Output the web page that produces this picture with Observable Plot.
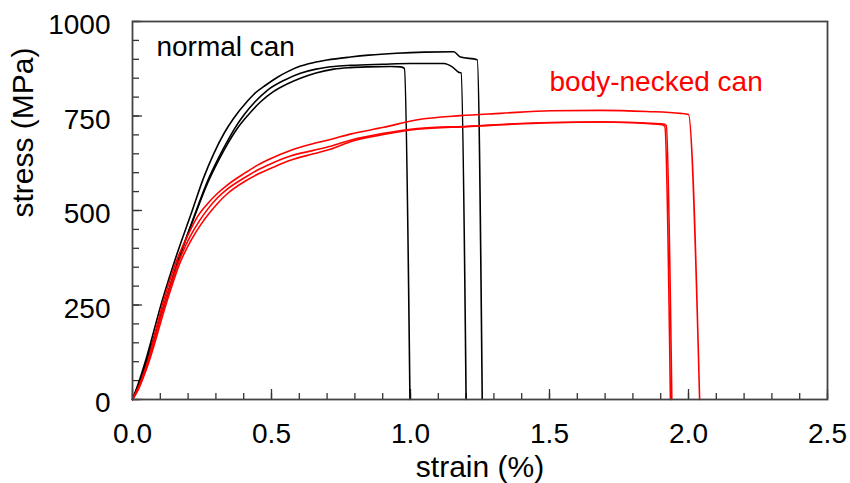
<!DOCTYPE html>
<html>
<head>
<meta charset="utf-8">
<script src="https://cdn.jsdelivr.net/npm/d3@7"></script>
<script src="https://cdn.jsdelivr.net/npm/@observablehq/plot@0.6"></script>
<style>
  html, body { margin: 0; padding: 0; background: #fff; }
</style>
</head>
<body>
<div id="chart"></div>
<script>
// ---- Data: [strain (%), stress (MPa)] ----
const normalCan1 = [[0,0],[0.02,40],[0.05,110],[0.107,262],[0.16,385],[0.215,500],[0.255,585],[0.292,650],[0.33,705],[0.364,744],[0.413,789],[0.436,807],[0.48,832],[0.52,852],[0.56,868],[0.604,882],[0.65,891],[0.70,898],[0.784,906],[0.85,911],[0.95,916],[1.05,919],[1.155,920],[1.18,906],[1.24,899],[1.258,0]];
const normalCan2 = [[0,0],[0.02,35],[0.05,100],[0.119,262],[0.17,380],[0.227,495],[0.27,578],[0.31,640],[0.341,683],[0.37,720],[0.40,752],[0.44,787],[0.485,818],[0.55,846],[0.604,863],[0.66,874],[0.724,881],[0.784,884],[0.9,887],[1.0,889],[1.12,889],[1.15,880],[1.173,866],[1.182,864],[1.2,0]];
const normalCan3 = [[0,0],[0.02,35],[0.05,100],[0.119,262],[0.17,378],[0.227,492],[0.27,572],[0.31,633],[0.341,675],[0.375,715],[0.413,750],[0.46,787],[0.508,815],[0.56,836],[0.604,850],[0.66,864],[0.724,874],[0.784,878],[0.85,880],[0.93,881],[0.965,880],[0.978,876],[0.998,0]];
const neckedCan1 = [[0,0],[0.02,30],[0.05,90],[0.112,262],[0.16,370],[0.202,439],[0.235,485],[0.27,518],[0.305,545],[0.342,568],[0.406,600],[0.45,620],[0.496,637],[0.568,659],[0.651,677],[0.712,688],[0.784,702],[0.903,720],[1.025,740],[1.18,751],[1.324,757],[1.504,764],[1.683,765],[1.85,762],[1.971,757],[2.0,754],[2.04,0]];
const neckedCan2 = [[0,0],[0.02,28],[0.05,85],[0.119,262],[0.165,362],[0.205,428],[0.24,472],[0.27,503],[0.305,533],[0.342,557],[0.406,588],[0.45,607],[0.496,623],[0.568,644],[0.651,659],[0.712,670],[0.784,686],[0.903,704],[1.025,717],[1.205,723],[1.504,733],[1.7,734],[1.85,730],[1.905,727],[1.915,722],[1.935,0]];
const neckedCan3 = [[0,0],[0.02,25],[0.05,80],[0.125,262],[0.17,360],[0.21,420],[0.245,462],[0.273,490],[0.305,518],[0.342,545],[0.406,578],[0.45,596],[0.496,611],[0.568,633],[0.651,650],[0.712,662],[0.784,682],[0.903,701],[1.025,715],[1.205,722],[1.504,732],[1.7,734],[1.85,731],[1.91,729],[1.92,725],[1.94,0]];

const groups = ["normal can", "body-necked can"];
const groupColors = ["#000000", "#ff0000"];
const xTicks = [0, 0.5, 1.0, 1.5, 2.0, 2.5];
const xMinorTicks = d3.range(0, 26).map(i => i / 10);
const yTicks = [0, 250, 500, 750, 1000];
const yMinorTicks = d3.range(0, 21).map(i => i * 50);
const xLabel = "strain (%)";
const yLabel = "stress (MPa)";

const curves = [
  {group: groups[0], points: normalCan1},
  {group: groups[0], points: normalCan2},
  {group: groups[0], points: normalCan3},
  {group: groups[1], points: neckedCan1},
  {group: groups[1], points: neckedCan2},
  {group: groups[1], points: neckedCan3}
];
const rows = curves.flatMap((c, i) => c.points.map(([strain, stress]) => ({id: i, group: c.group, strain, stress})));

const W = 850, H = 483;
const mL = 132, mR = 23, mT = 21, mB = 84;
const frameW = W - mL - mR, frameH = H - mT - mB;
const tickColor = "#333";

const annotations = [
  {text: groups[0], strain: 0.086, stress: 910, color: groupColors[0]},
  {text: groups[1], strain: 1.5, stress: 817, color: groupColors[1]}
];

const chart = Plot.plot({
  width: W,
  height: H,
  marginLeft: mL,
  marginRight: mR,
  marginTop: mT,
  marginBottom: mB,
  style: {fontFamily: "'Liberation Sans', Arial, sans-serif", fontSize: "28px", background: "#fff", color: "#000"},
  x: {domain: [0, 2.5]},
  y: {domain: [0, 1000]},
  color: {domain: groups, range: groupColors},
  marks: [
    // inward minor and major ticks
    Plot.ruleX(xMinorTicks, {x: d => d, insetTop: frameH - 6, stroke: tickColor, strokeWidth: 1.3}),
    Plot.ruleX(xTicks, {x: d => d, insetTop: frameH - 10, stroke: tickColor, strokeWidth: 1.3}),
    Plot.ruleY(yMinorTicks, {y: d => d, insetRight: frameW - 7, stroke: tickColor, strokeWidth: 1.3}),
    Plot.ruleY(yTicks, {y: d => d, insetRight: frameW - 10, stroke: tickColor, strokeWidth: 1.3}),
    Plot.axisX(xTicks, {tickSize: 0, tickPadding: 24, tickFormat: d3.format(".1f"), label: null, fontSize: 28, fill: "#000"}),
    Plot.axisY(yTicks, {tickSize: 0, tickPadding: 22, tickFormat: d => String(d), label: null, fontSize: 28, dy: 4, fill: "#000"}),
    Plot.line(rows, {x: "strain", y: "stress", z: "id", stroke: "group", strokeWidth: 1.6, strokeLinejoin: "round", curve: "monotone-x"}),
    Plot.text(annotations, {x: "strain", y: "stress", text: "text", fill: "color", textAnchor: "start", lineAnchor: "bottom", fontSize: 28}),
    Plot.text([xLabel], {frameAnchor: "bottom", text: d => d, lineAnchor: "bottom", dy: 77, fontSize: 30, fill: "#000"}),
    Plot.text([yLabel], {frameAnchor: "left", text: d => d, rotate: -90, lineAnchor: "bottom", dx: -100, dy: 7, fontSize: 30, fill: "#000"}),
    Plot.frame({stroke: "#444", strokeWidth: 1.8})
  ]
});
document.getElementById("chart").appendChild(chart);
</script>
</body>
</html>
